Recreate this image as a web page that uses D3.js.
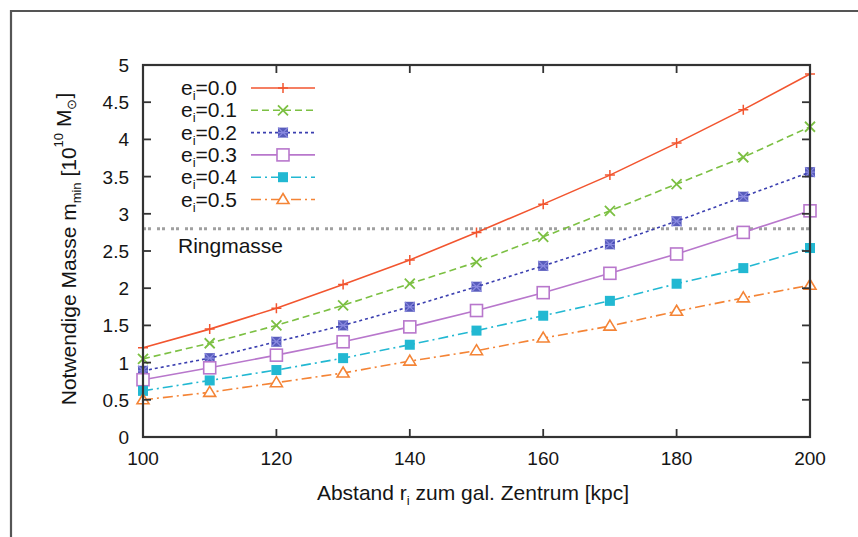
<!DOCTYPE html>
<html><head><meta charset="utf-8">
<script src="https://cdn.jsdelivr.net/npm/d3@7/dist/d3.min.js"></script>
<style>body{margin:0;background:#fff}svg{display:block}text{font-family:"Liberation Sans",Arial,sans-serif;fill:#151515}</style>
</head><body><svg id="c" width="858" height="537"></svg>
<script>
const xValues = [100,110,120,130,140,150,160,170,180,190,200];
const e00 = [1.2,1.45,1.73,2.05,2.38,2.75,3.13,3.52,3.95,4.4,4.88];
const e01 = [1.05,1.26,1.5,1.77,2.06,2.35,2.69,3.04,3.4,3.76,4.17];
const e02 = [0.89,1.06,1.28,1.5,1.75,2.02,2.3,2.59,2.9,3.23,3.56];
const e03 = [0.77,0.93,1.1,1.28,1.48,1.7,1.94,2.2,2.46,2.75,3.04];
const e04 = [0.62,0.76,0.9,1.06,1.24,1.43,1.63,1.83,2.06,2.27,2.54];
const e05 = [0.5,0.6,0.73,0.86,1.02,1.16,1.33,1.49,1.69,1.87,2.04];
const seriesLabels = ["0.0","0.1","0.2","0.3","0.4","0.5"];
const ringMasse = 2.8;
const xTicks = [100,120,140,160,180,200];
const yTicks = [0,0.5,1,1.5,2,2.5,3,3.5,4,4.5,5];

const svg = d3.select("#c");
// outer frame
svg.append("path").attr("d","M11,537 L11,11 L858,11").attr("fill","none").attr("stroke","#555").attr("stroke-width",2.2);

const L=143,R=810,T=65,B=437;
const x = d3.scaleLinear().domain([100,200]).range([L,R]);
const y = d3.scaleLinear().domain([0,5]).range([B,T]);

const styles = [
 {data:e00,color:"#f2552f",dash:null,sym:"plus"},
 {data:e01,color:"#7cc043",dash:"7,4",sym:"cross"},
 {data:e02,color:"#3b3fb0",dash:"3,3",sym:"star"},
 {data:e03,color:"#b877cc",dash:null,sym:"osq"},
 {data:e04,color:"#22b8d2",dash:"10,4,2,4",sym:"fsq"},
 {data:e05,color:"#f48436",dash:"10,4,2,4",sym:"otri"}
];

const g = svg.append("g");
// ring line
g.append("line").attr("x1",L).attr("x2",R).attr("y1",y(ringMasse)).attr("y2",y(ringMasse))
 .attr("stroke","#a0a0a0").attr("stroke-width",3).attr("stroke-dasharray","3,2,3,6");
g.append("text").attr("x",178).attr("y",y(ringMasse)+24).attr("font-size",21).text("Ringmasse");

function marker(sel, sym, color, cx, cy){
  const s=5;
  if(sym==="plus"){
    sel.append("path").attr("d",`M${cx-s},${cy}H${cx+s}M${cx},${cy-s}V${cy+s}`).attr("stroke",color).attr("stroke-width",1.5);
  } else if(sym==="cross"){
    sel.append("path").attr("d",`M${cx-s},${cy-s}L${cx+s},${cy+s}M${cx-s},${cy+s}L${cx+s},${cy-s}`).attr("stroke",color).attr("stroke-width",1.8);
  } else if(sym==="star"){
    sel.append("rect").attr("x",cx-s).attr("y",cy-s).attr("width",2*s).attr("height",2*s).attr("fill",color).attr("opacity",0.85);
    sel.append("path").attr("d",`M${cx-s},${cy-s}L${cx+s},${cy+s}M${cx-s},${cy+s}L${cx+s},${cy-s}M${cx-s},${cy}H${cx+s}`).attr("stroke","#8a8ae0").attr("stroke-width",1.2);
  } else if(sym==="osq"){
    sel.append("rect").attr("x",cx-s-1).attr("y",cy-s-1).attr("width",2*s+2).attr("height",2*s+2).attr("fill","#fff").attr("stroke",color).attr("stroke-width",1.6);
  } else if(sym==="fsq"){
    sel.append("rect").attr("x",cx-s).attr("y",cy-s).attr("width",2*s).attr("height",2*s).attr("fill",color);
  } else if(sym==="otri"){
    sel.append("path").attr("d",`M${cx},${cy-s-1}L${cx+s+1},${cy+s-1}L${cx-s-1},${cy+s-1}Z`).attr("fill","#fff").attr("stroke",color).attr("stroke-width",1.6);
  }
}

const line = d3.line().x(d=>x(d[0])).y(d=>y(d[1]));
styles.forEach(st=>{
  const pts = xValues.map((v,i)=>[v,st.data[i]]);
  g.append("path").datum(pts).attr("d",line).attr("fill","none").attr("stroke",st.color).attr("stroke-width",1.6).attr("stroke-dasharray",st.dash);
  pts.forEach(p=>marker(g,st.sym,st.color,x(p[0]),y(p[1])));
});

// legend
styles.forEach((st,i)=>{
  const ly = 88 + i*22.3;
  const t = g.append("text").attr("x",237).attr("y",ly+7).attr("text-anchor","end").attr("font-size",21);
  t.append("tspan").text("e");
  t.append("tspan").attr("font-size",13).attr("dy",5).text("i");
  t.append("tspan").attr("dy",-5).text("="+seriesLabels[i]);
  g.append("line").attr("x1",251).attr("x2",315).attr("y1",ly).attr("y2",ly).attr("stroke",st.color).attr("stroke-width",1.6).attr("stroke-dasharray",st.dash);
  marker(g,st.sym,st.color,283,ly);
});

// axes frame & ticks
const ax = svg.append("g");
ax.append("rect").attr("x",L).attr("y",T).attr("width",R-L).attr("height",B-T).attr("fill","none").attr("stroke","#333").attr("stroke-width",2.2);
const tl=8;
xTicks.forEach(v=>{
  ax.append("line").attr("x1",x(v)).attr("x2",x(v)).attr("y1",B).attr("y2",B-tl).attr("stroke","#333").attr("stroke-width",1.8);
  ax.append("line").attr("x1",x(v)).attr("x2",x(v)).attr("y1",T).attr("y2",T+tl).attr("stroke","#333").attr("stroke-width",1.8);
  ax.append("text").attr("x",x(v)).attr("y",B+28).attr("text-anchor","middle").attr("font-size",19).text(v);
});
yTicks.forEach(v=>{
  ax.append("line").attr("x1",L).attr("x2",L+tl).attr("y1",y(v)).attr("y2",y(v)).attr("stroke","#333").attr("stroke-width",1.8);
  ax.append("line").attr("x1",R).attr("x2",R-tl).attr("y1",y(v)).attr("y2",y(v)).attr("stroke","#333").attr("stroke-width",1.8);
  ax.append("text").attr("x",L-14).attr("y",y(v)+7).attr("text-anchor","end").attr("font-size",19).text(d3.format("")(v));
});

// x label
const xl = svg.append("text").attr("x",473).attr("y",500).attr("text-anchor","middle").attr("font-size",21);
xl.append("tspan").text("Abstand r");
xl.append("tspan").attr("font-size",13).attr("dy",5).text("i");
xl.append("tspan").attr("dy",-5).text(" zum gal. Zentrum [kpc]");

// y label
const yl = svg.append("text").attr("transform","translate(76,249) rotate(-90)").attr("text-anchor","middle").attr("font-size",21);
yl.append("tspan").text("Notwendige Masse m");
yl.append("tspan").attr("font-size",13).attr("dy",5).text("min");
yl.append("tspan").attr("dy",-5).text(" [10");
yl.append("tspan").attr("font-size",13).attr("dy",-13).text("10");
yl.append("tspan").attr("dy",8).text(" M");
yl.append("tspan").attr("font-size",13).attr("dy",5).text("⊙");
yl.append("tspan").attr("dy",-5).text("]");
</script></body></html>
